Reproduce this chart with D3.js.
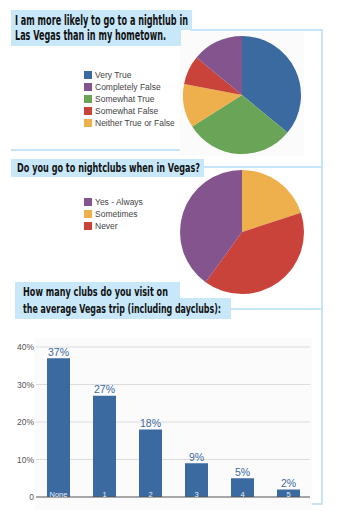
<!DOCTYPE html>
<html><head><meta charset="utf-8">
<script src="https://cdn.jsdelivr.net/npm/d3@7"></script>
<style>body{margin:0;background:#fff}svg{display:block}</style>
</head><body><svg id="c" width="337" height="516"></svg>
<script>
// ---- data ----
const pie1Labels = ["Very True","Completely False","Somewhat True","Somewhat False","Neither True or False"];
const pie1Order  = ["Very True","Somewhat True","Neither True or False","Somewhat False","Completely False"];
const pie1Values = [36, 30, 12, 8, 14]; // in pie1Order
const pie2Labels = ["Yes - Always","Sometimes","Never"];
const pie2Order  = ["Sometimes","Never","Yes - Always"];
const pie2Values = [20, 40, 40]; // in pie2Order
const barCats   = ["None","1","2","3","4","5"];
const barValues = [37, 27, 18, 9, 5, 2];
const yTicks    = [0, 10, 20, 30, 40];
const titles1 = ["I am more likely to go to a nightlub in","Las Vegas than in my hometown."];
const titles2 = ["Do you go to nightclubs when in Vegas?"];
const titles3 = ["How many clubs do you visit on","the average Vegas trip (including dayclubs):"];

const colors = {
  "Very True":"#3b6aa0","Completely False":"#84548e","Somewhat True":"#6aa456",
  "Somewhat False":"#c9433b","Neither True or False":"#edb04c",
  "Yes - Always":"#84548e","Sometimes":"#edb04c","Never":"#c9433b"
};
const frame = "#c6e6f8", boxFill = "#c8e8f9";
const svg = d3.select("#c");
const titleFont = "'Liberation Sans Narrow','DejaVu Sans Condensed','Roboto Condensed',sans-serif";

// ---- frame lines ----
const fl = svg.append("g").attr("stroke", frame).attr("stroke-width", 2).attr("fill","none");
fl.append("path").attr("d","M190,30 H322 V504 H299");
fl.append("path").attr("d","M11,150 H205");
fl.append("path").attr("d","M204,167 H322");
fl.append("path").attr("d","M231,309 H322");

// faint backgrounds
svg.append("rect").attr("x",180).attr("y",32).attr("width",124).attr("height",124).attr("fill","#fbfbfb");
svg.append("rect").attr("x",34).attr("y",338).attr("width",278).attr("height",172).attr("fill","#fbfbfb");

// ---- title boxes ----
function box(x,y,w,h){svg.append("rect").attr("x",x).attr("y",y).attr("width",w).attr("height",h).attr("fill",boxFill);}
box(11,10,181,20); box(11,29,170,17);
box(11,159,193,18);
box(15,282,165,17); box(15,298,216,21);

function title(txt,x,y,w,size){
  svg.append("text").attr("x",x).attr("y",y).text(txt)
    .attr("font-family",titleFont).attr("font-weight","bold").attr("font-size",size)
    .attr("fill","#111").attr("textLength",w).attr("lengthAdjust","spacingAndGlyphs");
}
title(titles1[0],15,25,173,14);
title(titles1[1],15,40,151,14);
title(titles2[0],17,172,183,13);
title(titles3[0],23,296,145,12.5);
title(titles3[1],23,313,198,12.5);

// ---- pies ----
function drawPie(cx,cy,r,order,values){
  const data = order.map((k,i)=>({k,v:values[i]}));
  const arcs = d3.pie().sort(null).value(d=>d.v)(data);
  const arc = d3.arc().innerRadius(0).outerRadius(r);
  svg.append("g").attr("transform",`translate(${cx},${cy})`)
    .selectAll("path").data(arcs).join("path").attr("d",arc).attr("fill",d=>colors[d.data.k]);
}
drawPie(242,95,59,pie1Order,pie1Values);
drawPie(242,232,62,pie2Order,pie2Values);

function legend(labels,x,y0){
  const g = svg.append("g");
  labels.forEach((l,i)=>{
    const y = y0 + i*12;
    g.append("rect").attr("x",x).attr("y",y-4).attr("width",8).attr("height",8).attr("fill",colors[l]);
    g.append("text").attr("x",x+11).attr("y",y+3).text(l)
      .attr("font-family","'Liberation Sans',Arial,sans-serif").attr("font-size",8.5).attr("fill","#444");
  });
}
legend(pie1Labels,84,75);
legend(pie2Labels,84,202);

// ---- bar chart ----
const x = d3.scaleBand().domain(barCats).range([35.5,311.5]).paddingInner(0.5).paddingOuter(0.25);
const y = d3.scaleLinear().domain([0,40]).range([497,347]);
const gg = svg.append("g");
yTicks.filter(t=>t>0).forEach(t=>{
  gg.append("line").attr("x1",36).attr("x2",310).attr("y1",y(t)).attr("y2",y(t))
    .attr("stroke","#dcdcdc").attr("stroke-width",1);
});
const yAxis = d3.axisLeft(y).tickValues(yTicks).tickSize(0).tickPadding(0)
  .tickFormat(d=>d===0?"0":d+"%");
const ya = svg.append("g").attr("transform","translate(34,0)").call(yAxis);
ya.select(".domain").remove();
ya.selectAll("text").attr("font-family","'Liberation Sans',Arial,sans-serif").attr("font-size",8.5).attr("fill","#555");

svg.append("g").selectAll("rect").data(barValues).join("rect")
  .attr("x",(d,i)=>x(barCats[i])).attr("width",x.bandwidth())
  .attr("y",d=>y(d)).attr("height",d=>y(0)-y(d)).attr("fill","#3b6aa0");
svg.append("line").attr("x1",36).attr("x2",310).attr("y1",y(0)).attr("y2",y(0))
  .attr("stroke","#555").attr("stroke-width",1.2);
svg.append("g").selectAll("text").data(barValues).join("text")
  .attr("x",(d,i)=>x(barCats[i])+x.bandwidth()/2).attr("y",d=>y(d)-2.5).attr("text-anchor","middle")
  .text(d=>d+"%").attr("font-family","'Liberation Sans',Arial,sans-serif").attr("font-size",10.5).attr("fill","#3b6aa0");
svg.append("g").selectAll("text").data(barCats).join("text")
  .attr("x",d=>x(d)+x.bandwidth()/2).attr("y",496.5).attr("text-anchor","middle")
  .text(d=>d).attr("font-family","'Liberation Sans',Arial,sans-serif").attr("font-size",7.5)
  .attr("fill","#e8eef6");
</script></body></html>
